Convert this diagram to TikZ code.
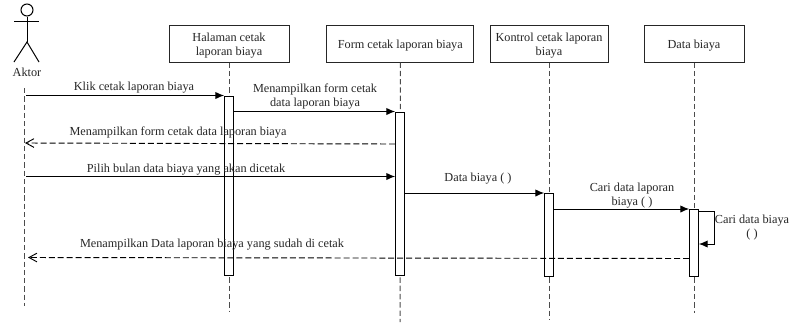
\documentclass[tikz,border=0pt]{standalone}
\usepackage{fontspec}
\setmainfont{Liberation Serif}
\usetikzlibrary{arrows.meta}
\tikzset{
  x=0.75pt,y=-0.75pt,
  objbox/.style={draw=black!85,line width=0.75pt,fill=white,rectangle,inner sep=0pt,minimum height=27.75pt},
  objtext/.style={inner sep=0pt,align=center,text=black!85,yshift=-1.5pt,font=\fontsize{9.2pt}{10.5pt}\selectfont},
  lifeline/.style={draw=black!70,line width=0.75pt,dash pattern=on 4pt off 2.2pt},
  bar/.style={draw=black,line width=0.7pt,fill=white,rectangle,inner sep=0pt,minimum width=6.75pt,anchor=north},
  msg/.style={draw=black,line width=0.7pt,-{Latex[length=6.5pt,width=5.5pt]}},
  ret/.style={draw=black,line width=0.7pt,dash pattern=on 4.5pt off 2.2pt,-{Straight Barb[length=6pt,width=6.5pt]}},
  lbl/.style={inner sep=0pt,align=center,text=black!85,font=\fontsize{9.2pt}{10.5pt}\selectfont},
  stick/.style={draw=black,line width=0.75pt}
}
\begin{document}
\begin{tikzpicture}
\useasboundingbox (0,0) rectangle (791,322);
% actor
\node[draw=black,line width=0.75pt,circle,minimum size=9pt,inner sep=0pt] (head) at (27,10) {};
\coordinate (hip) at (27,42);
\coordinate (armL) at (14,21); \coordinate (armR) at (39,21);
\coordinate (legL) at (14,62); \coordinate (legR) at (39,62);
\draw[stick] (head.south) -- (hip);
\draw[stick] (armL) -- (armR);
\draw[stick] (legL) -- (hip) -- (legR);
\node[lbl] (aktor) at (27,72) {Aktor};
% objects
\node[objbox,minimum width=90pt,label={[objtext]center:Halaman cetak\\laporan biaya}] (o1) at (229,43.5) {};
\node[objbox,minimum width=110pt,label={[objtext]center:Form cetak laporan biaya}] (o2) at (400.3,43.5) {};
\node[objbox,minimum width=88.5pt,label={[objtext]center:Kontrol cetak laporan\\biaya}] (o3) at (549,43.5) {};
\node[objbox,minimum width=75pt,label={[objtext]center:Data biaya}] (o4) at (694,43.5) {};
% lifeline ends
\coordinate (a0) at (24,88); \coordinate (e0) at (24,306);
\coordinate (e1) at (229,312); \coordinate (e2) at (400,322);
\coordinate (e3) at (549,320); \coordinate (e4) at (694,313);
\draw[lifeline] (a0) -- (e0);
\draw[lifeline] (o1.south) -- (e1);
\draw[lifeline] (o2.south) -- (e2);
\draw[lifeline] (o3.south) -- (e3);
\draw[lifeline] (o4.south) -- (e4);
% activations
\node[bar,minimum height=134.25pt] (b1) at (229,95.5) {};
\node[bar,minimum height=122.25pt] (b2) at (400,111.5) {};
\node[bar,minimum height=61.9pt] (b3) at (549,193) {};
\node[bar,minimum height=49.9pt] (b4) at (694,209) {};
% message ends
\coordinate (s1) at (26,95.5);
\coordinate (s3) at (25,143);
\coordinate (s4) at (26,176.5);
\coordinate (s8) at (28,257.5);
\coordinate (t31) at (714,211);
\coordinate (t32) at (714,244);
\draw[msg] (s1) -- (b1.north west);
\draw[msg] (b1.east |- b2.north) -- (b2.north west);
\draw[ret] (b2.west |- 0,144) -- (s3);
\draw[msg] (s4) -- (b2.west |- s4);
\draw[msg] (b2.east |- b3.north) -- (b3.north west);
\draw[msg] (b3.east |- b4.north) -- (b4.north west);
\draw[msg] (b4.east |- t31) -- (t31) -- (t32) -- (b4.east |- t32);
\draw[ret] (b4.west |- 0,258.5) -- (s8);
% labels
\node[lbl] (l1) at (134,87.5) {Klik cetak laporan biaya};
\node[lbl] (l2) at (315,96.5) {Menampilkan form cetak\\data laporan biaya};
\node[lbl] (l3) at (178,132.5) {Menampilkan form cetak data laporan biaya};
\node[lbl] (l4) at (186,169.5) {Pilih bulan data biaya yang akan dicetak};
\node[lbl] (l5) at (478,179) {Data biaya ( )};
\node[lbl] (l6) at (632,196) {Cari data laporan\\biaya ( )};
\node[lbl] (l7) at (752,227.5) {Cari data biaya\\( )};
\node[lbl] (l8) at (212,244.5) {Menampilkan Data laporan biaya yang sudah di cetak};
\end{tikzpicture}
\end{document}
